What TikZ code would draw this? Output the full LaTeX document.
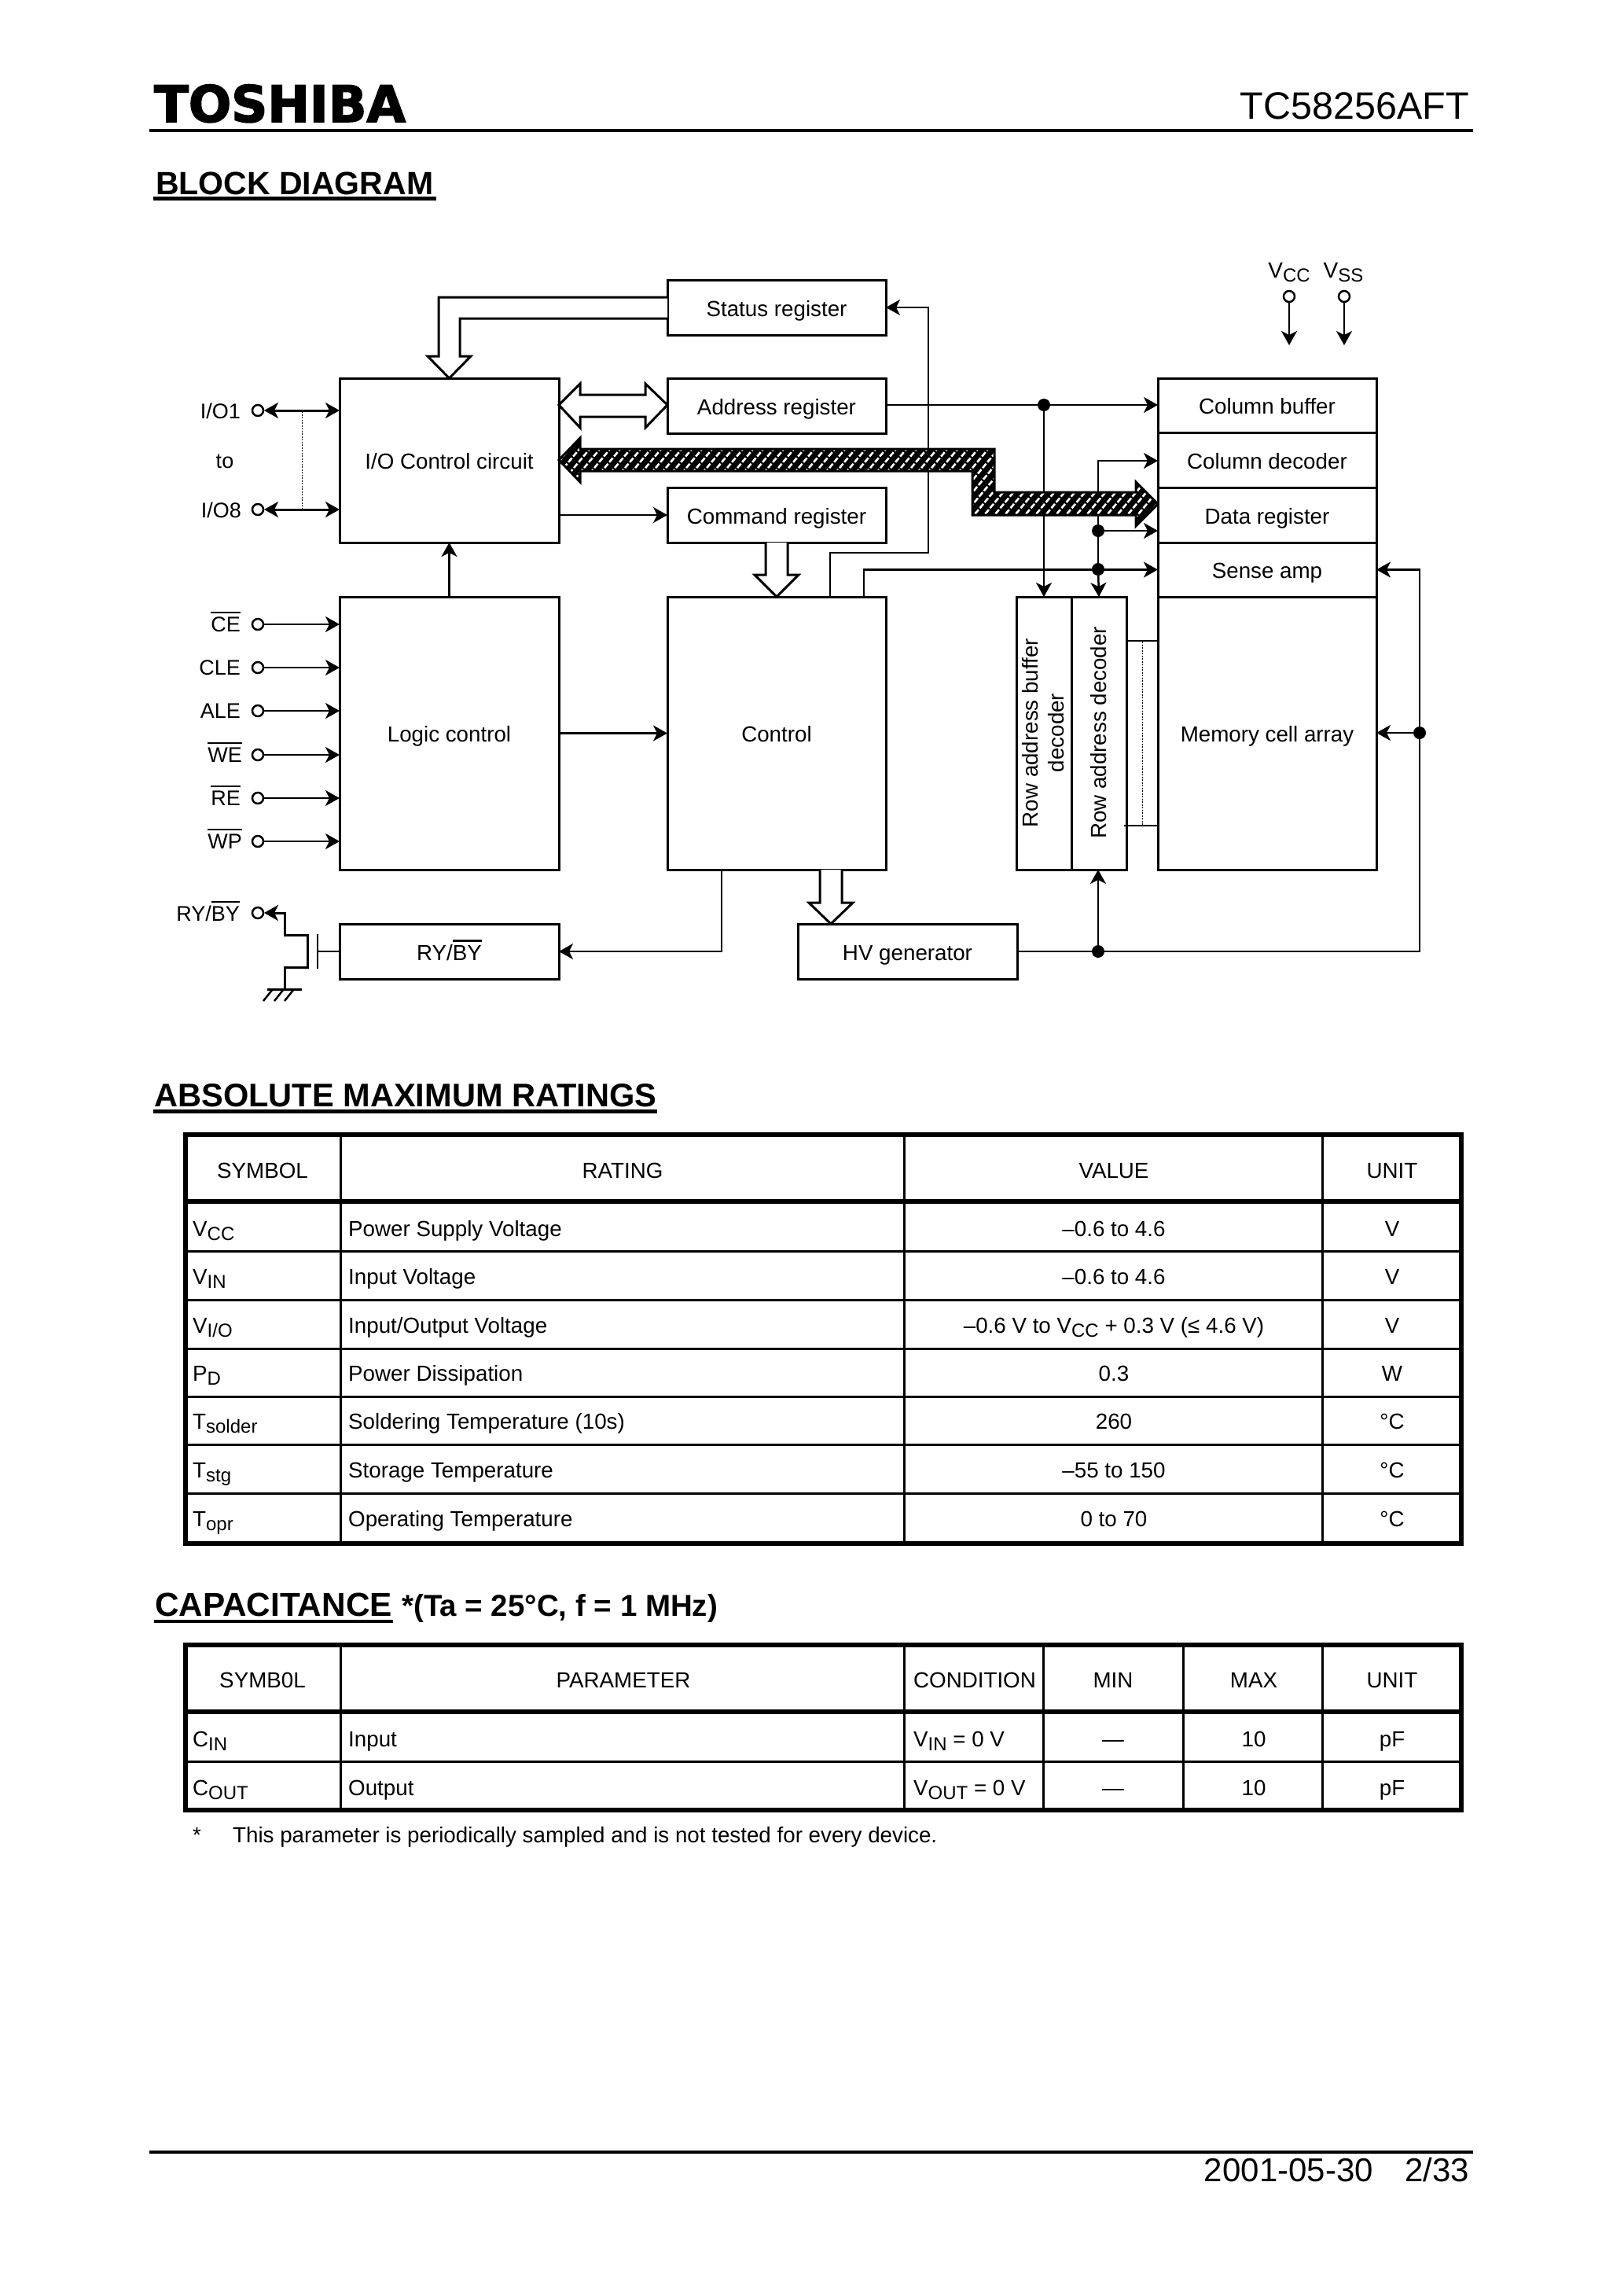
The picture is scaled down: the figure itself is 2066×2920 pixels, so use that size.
\documentclass[tikz,border=0pt]{standalone}
\usepackage{fontspec}
\setmainfont{Liberation Sans}
\newfontfamily\logofont[FakeBold=2.5]{DejaVu Sans Bold}
\usetikzlibrary{arrows.meta,calc}
\newcommand\fs[1]{\fontsize{#1}{#1}\selectfont}
\newcommand\ovl[1]{\vbox{\hrule height 2.5pt\kern 4pt\hbox{#1}}}
\newcommand\sbs[1]{\raisebox{-5.5pt}{\fs{24}#1}}
\newcommand\blk[6]{\node[blk,minimum width={(#4)-(#2)},minimum height={(#5)-(#3)}] (#1) at ({((#2)+(#4))/2},{((#3)+(#5))/2}) {#6};}
\tikzset{
  blk/.style={draw,line width=3pt,inner sep=0pt,outer sep=0pt,font=\fs{27.75},text height=25pt,text depth=3pt},
  conn/.style={line width=2.5pt},
  arr/.style={conn,-{Stealth[length=18pt,width=20pt,inset=5pt]}},
  barr/.style={conn,line width=3pt,{Stealth[length=18pt,width=20pt,inset=5pt]}-{Stealth[length=18pt,width=20pt,inset=5pt]}},
  pinc/.style={circle,draw,line width=2.5pt,fill=white,minimum size=14pt,inner sep=0pt,outer sep=1pt},
  jdot/.style={circle,fill=black,minimum size=16pt,inner sep=0pt,outer sep=0pt},
  pintxt/.style={anchor=base east,inner sep=0pt,font=\fs{27}},
  rotl/.style={rotate=90,inner sep=0pt,font=\fs{27.75},align=center},
  fatarr/.style={line width=3pt,fill=white,miter limit=10},
  dots/.style={line width=1pt,dash pattern=on 2pt off 1.5pt},
  tl/.style={anchor=base west,inner sep=0pt,font=\fs{27.75}},
  tc/.style={anchor=base,inner sep=0pt,font=\fs{27.75}},
  head/.style={anchor=base west,inner sep=0pt,font=\bfseries\fs{41}},
  rule/.style={line width=4.5pt},
  tout/.style={line width=5.5pt},
  tthin/.style={line width=3pt},
}
\begin{document}
\begin{tikzpicture}[x=1pt,y=-1pt]
\useasboundingbox (0,0) rectangle (2066,2920);
\fill[white] (0,0) rectangle (2066,2920);
% page furniture
\node[anchor=base west,inner sep=0pt,font=\logofont\fs{64}] (logo) at (196,155) {TOSHIBA};
\node[anchor=base east,inner sep=0pt,font=\fs{48.5}] (partno) at (1869,151) {TC58256AFT};
\draw[rule] (190,166) -- (1874,166);
\node[head] (hblock) at (198,247) {BLOCK DIAGRAM};
\draw[rule] (195,252.5) -- (555,252.5);
\node[head,font=\bfseries\fs{41.6}] (habs) at (196,1407) {ABSOLUTE MAXIMUM RATINGS};
\draw[rule] (195,1413.5) -- (836,1413.5);
\node[head,font=\bfseries\fs{42.3}] (hcap) at (197,2055) {CAPACITANCE};
\draw[rule] (196,2062) -- (500,2062);
\node[head,font=\bfseries\fs{38.5}] (hcond) at (511,2055) {*(Ta = 25°C, f = 1 MHz)};
\draw[rule] (190,2737) -- (1874,2737);
\node[anchor=base east,inner sep=0pt,font=\fs{42}] (fdate) at (1747,2774) {2001-05-30};
\node[anchor=base east,inner sep=0pt,font=\fs{42}] (fpage) at (1869,2774) {2/33};
% blocks
\blk{ioc}{432}{481}{711}{690}{I/O Control circuit}
\blk{logic}{432}{759}{711}{1106}{Logic control}
\blk{ryb}{432}{1175}{711}{1245}{RY/\ovl{BY}}
\blk{status}{849}{356}{1127}{426}{Status register}
\blk{addr}{849}{481}{1127}{551}{Address register}
\blk{cmd}{849}{620}{1127}{690}{Command register}
\blk{ctrl}{849}{759}{1127}{1106}{Control}
\blk{hv}{1015}{1175}{1294}{1245}{HV generator}
\blk{rowbuf}{1293}{759}{1363}{1106}{}
\blk{rowdec}{1363}{759}{1433}{1106}{}
\blk{colbuf}{1473}{481}{1751}{550}{Column buffer}
\blk{coldec}{1473}{550}{1751}{620}{Column decoder}
\blk{datar}{1473}{620}{1751}{690}{Data register}
\blk{sense}{1473}{690}{1751}{759}{Sense amp}
\blk{mem}{1473}{759}{1751}{1106}{Memory cell array}
\node[rotl] (rowbuftxt) at (1327,932) {Row address buffer\\[4.5pt]decoder};
\node[rotl] (rowdectxt) at (1398,932) {Row address decoder};
% pins
\node[pinc] (p1) at (328,522) {};
\node[pinc] (p8) at (328,648) {};
\node[pinc] (pce) at (328,794) {};
\node[pinc] (pcle) at (328,849) {};
\node[pinc] (pale) at (328,904) {};
\node[pinc] (pwe) at (328,960) {};
\node[pinc] (pre) at (328,1015) {};
\node[pinc] (pwp) at (328,1070) {};
\node[pinc] (pry) at (328,1161) {};
\node[pinc] (pvcc) at (1640,377) {};
\node[pinc] (pvss) at (1710,377) {};
\node[pintxt] (t1) at (306,532) {I/O1};
\node[tc,font=\fs{27}] (tto) at (286,595) {to};
\node[pintxt] (t8) at (307,658) {I/O8};
\node[pintxt] (tce) at (306,803) {\ovl{CE}};
\node[pintxt] (tcle) at (306,858) {CLE};
\node[pintxt] (tale) at (306,913) {ALE};
\node[pintxt] (twe) at (308,969) {\ovl{WE}};
\node[pintxt] (tre) at (306,1024) {\ovl{RE}};
\node[pintxt] (twp) at (308,1079) {\ovl{WP}};
\node[pintxt] (try) at (305,1171) {RY/\ovl{BY}};
\node[tc,font=\fs{28}] (tvcc) at (1640,353) {V\sbs{CC}};
\node[tc,font=\fs{28}] (tvss) at (1709,353) {V\sbs{SS}};
% junctions
\node[jdot] (ja) at (1328,515) {};
\node[jdot] (jb) at (1397,675) {};
\node[jdot] (jc) at (1397,724) {};
\node[jdot] (jd) at (1397,1210) {};
\node[jdot] (je) at (1806,932) {};
% connectors
\draw[barr] (p1.east) -- (ioc.west |- p1);
\draw[barr] (p8.east) -- (ioc.west |- p8);
\draw[dots] (384,523) -- (384,648);
\foreach \p in {pce,pcle,pale,pwe,pre,pwp} \draw[arr] (\p.east) -- (logic.west |- \p);
\draw[arr] (logic.north) -- (ioc.south);
\draw[arr] (logic.east) -- (ctrl.west);
\draw[arr] (ioc.east |- cmd) -- (cmd.west);
\draw[arr] (ctrl.north -| 1056,0) -- (1056,703) -- (1181,703) -- (1181,391) -- (status.east |- 0,391);
\draw[arr] (ctrl.north -| 1099,0) -- (1099,724.5) -- (sense.west);
\draw[arr] (addr.east |- ja) -- (colbuf.west |- ja);
\draw[arr] (ja) -- (rowbuf.north);
\draw[arr] (jc) -- (rowdec.north);
\draw[conn] (jc) -- (jb);
\draw[arr] (jb) -- (1397,586) -- (coldec.west |- 0,586);
\draw[arr] (jb) -- (datar.west |- jb);
\draw[arr] (hv.east) -- (jd) -- (1806,1210) -- (1806,724.5) -- (sense.east);
\draw[conn] (1806,1210) -- (je);
\draw[arr] (je) -- (mem.east |- je);
\draw[arr] (jd) -- (rowdec.south -| jd);
\draw[arr] (ctrl.south -| 918,0) -- (918,1210) -- (ryb.east);
\draw[arr] (pvcc.south) -- (1640,439);
\draw[arr] (pvss.south) -- (1710,439);
\draw[conn,line width=2pt] (rowdec.east |- 0,815) -- (mem.west |- 0,815);
\draw[conn,line width=2pt] (1430,1050) -- (mem.west |- 0,1050);
\draw[dots] (1453,816) -- (1453,1050);
% RY/BY output transistor
\coordinate (gnd) at (362,1258);
\coordinate (gate) at (404,1210);
\draw[arr,line width=3pt,line join=miter] (gnd) -- (362,1230) -- (391,1230) -- (391,1189) -- (362,1189) -- (362,1161) -- (pry.east);
\draw[conn,line width=2pt] (ryb.west) -- (gate);
\draw[conn,line width=2pt] (404,1188) -- (404,1232);
\draw[conn,line width=3pt] (340,1258) -- (384,1258);
\draw[conn] (347,1258) -- (335,1273) (361,1258) -- (349,1273) (374,1258) -- (362,1273);
% hollow bus arrows
\draw[fatarr] (status.west |- 0,378) -- (558,378) -- (558,453) -- (544,453) -- (ioc.north) -- (599,453) -- (585,453) -- (585,405) -- (status.west |- 0,405);
\draw[fatarr] (ioc.east |- 0,515) -- (738,488) -- (738,502) -- (821,502) -- (821,488) -- (addr.west |- 0,515) -- (821,544) -- (821,530) -- (738,530) -- (738,544) -- cycle;
\draw[fatarr] (974,690) -- (974,731) -- (960,731) -- (ctrl.north) -- (1016,731) -- (1002,731) -- (1002,690);
\draw[fatarr] (1043,1106) -- (1043,1148) -- (1029,1148) -- (1057,1175) -- (1085,1148) -- (1071,1148) -- (1071,1106);
% hatched data bus
\coordinate (hA) at (ioc.east |- 0,585);
\coordinate (hB) at (datar.west |- 0,641);
\def\hpath{(hA) -- (738,557) -- (738,571) -- (1265,571) -- (1265,626) -- (1445,626) -- (1445,613) -- (hB) -- (1445,669) -- (1445,655) -- (1237,655) -- (1237,599) -- (738,599) -- (738,613) -- cycle}
\fill[black] \hpath;
\begin{scope}
\clip \hpath;
\foreach \x in {612,625,...,1560} \draw[white,line width=2.6pt,dash pattern=on 7pt off 2.5pt] (\x,690) -- ({\x+120},546);
\end{scope}
\draw[black,line width=3pt,miter limit=10] \hpath;
% table 1
\draw[tout] (236,1443) rectangle (1859,1963);
\draw[tout] (236,1528) -- (1859,1528);
\foreach \y in {1591,1653,1715,1776,1837,1899} \draw[tthin] (236,\y) -- (1859,\y);
\foreach \x in {433,1150,1682} \draw[tthin] (\x,1443) -- (\x,1963);
\node[tc] (ah1) at (334,1498) {SYMBOL};
\node[tc] (ah2) at (792,1498) {RATING};
\node[tc] (ah3) at (1417,1498) {VALUE};
\node[tc] (ah4) at (1771,1498) {UNIT};
\node[tl] (a1s) at (245,1572) {V\sbs{CC}};
\node[tl] (a1r) at (443,1572) {Power Supply Voltage};
\node[tc] (a1v) at (1417,1572) {–0.6 to 4.6};
\node[tc] (a1u) at (1771,1572) {V};
\node[tl] (a2s) at (245,1633) {V\sbs{IN}};
\node[tl] (a2r) at (443,1633) {Input Voltage};
\node[tc] (a2v) at (1417,1633) {–0.6 to 4.6};
\node[tc] (a2u) at (1771,1633) {V};
\node[tl] (a3s) at (245,1695) {V\sbs{I/O}};
\node[tl] (a3r) at (443,1695) {Input/Output Voltage};
\node[tc] (a3v) at (1417,1695) {–0.6 V to V\sbs{CC} + 0.3 V (≤ 4.6 V)};
\node[tc] (a3u) at (1771,1695) {V};
\node[tl] (a4s) at (245,1756) {P\sbs{D}};
\node[tl] (a4r) at (443,1756) {Power Dissipation};
\node[tc] (a4v) at (1417,1756) {0.3};
\node[tc] (a4u) at (1771,1756) {W};
\node[tl] (a5s) at (245,1817) {T\sbs{solder}};
\node[tl] (a5r) at (443,1817) {Soldering Temperature (10s)};
\node[tc] (a5v) at (1417,1817) {260};
\node[tc] (a5u) at (1771,1817) {°C};
\node[tl] (a6s) at (245,1879) {T\sbs{stg}};
\node[tl] (a6r) at (443,1879) {Storage Temperature};
\node[tc] (a6v) at (1417,1879) {–55 to 150};
\node[tc] (a6u) at (1771,1879) {°C};
\node[tl] (a7s) at (245,1941) {T\sbs{opr}};
\node[tl] (a7r) at (443,1941) {Operating Temperature};
\node[tc] (a7v) at (1417,1941) {0 to 70};
\node[tc] (a7u) at (1771,1941) {°C};
% table 2
\draw[tout] (236,2092) rectangle (1859,2302);
\draw[tout] (236,2177) -- (1859,2177);
\draw[tthin] (236,2240) -- (1859,2240);
\foreach \x in {433,1150,1327,1505,1682} \draw[tthin] (\x,2092) -- (\x,2302);
\node[tc] (bh1) at (334,2146) {SYMB0L};
\node[tc] (bh2) at (793,2146) {PARAMETER};
\node[tc] (bh3) at (1240,2146) {CONDITION};
\node[tc] (bh4) at (1416,2146) {MIN};
\node[tc] (bh5) at (1595,2146) {MAX};
\node[tc] (bh6) at (1771,2146) {UNIT};
\node[tl] (b1s) at (245,2221) {C\sbs{IN}};
\node[tl] (b1p) at (443,2221) {Input};
\node[tl] (b1c) at (1162,2221) {V\sbs{IN} = 0 V};
\node[tc] (b1n) at (1416,2221) {—};
\node[tc] (b1x) at (1595,2221) {10};
\node[tc] (b1u) at (1771,2221) {pF};
\node[tl] (b2s) at (245,2283) {C\sbs{OUT}};
\node[tl] (b2p) at (443,2283) {Output};
\node[tl] (b2c) at (1162,2283) {V\sbs{OUT} = 0 V};
\node[tc] (b2n) at (1416,2283) {—};
\node[tc] (b2x) at (1595,2283) {10};
\node[tc] (b2u) at (1771,2283) {pF};
\node[tl] (fnstar) at (245,2343) {*};
\node[tl] (fntext) at (296,2343) {This parameter is periodically sampled and is not tested for every device.};
\end{tikzpicture}
\end{document}
